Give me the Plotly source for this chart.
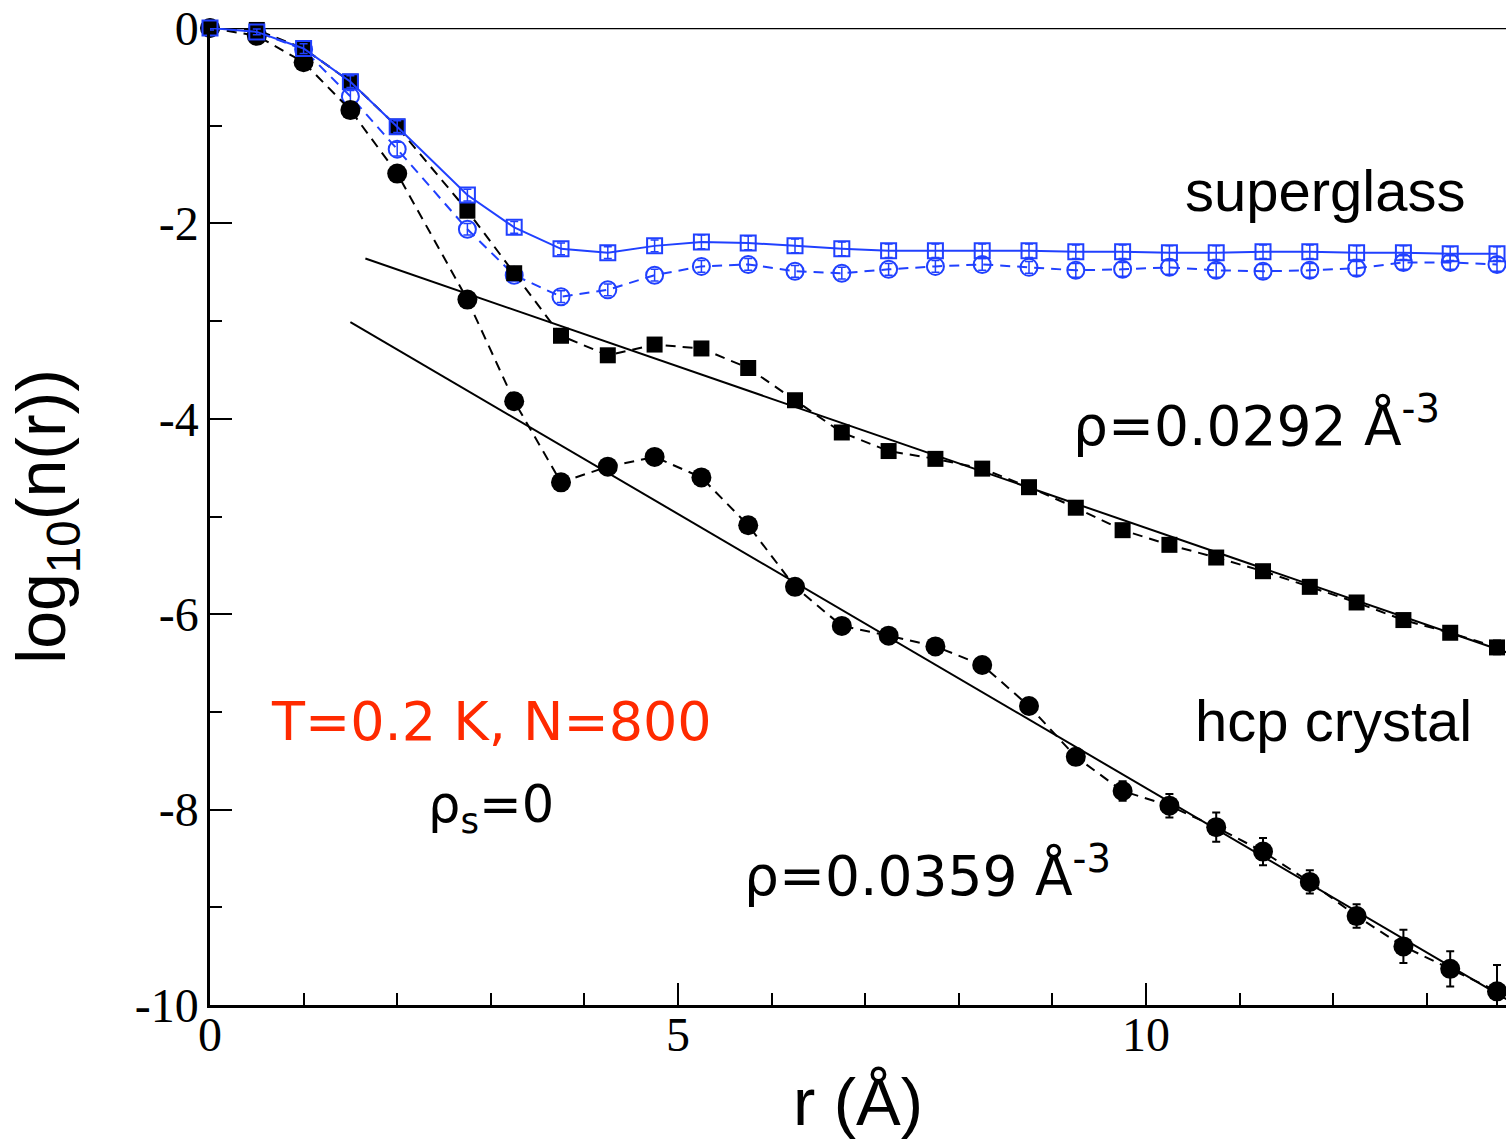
import plotly.graph_objects as go

# r values (Å)
r = [0.0, 0.5, 1.0, 1.5, 2.0, 2.75, 3.25, 3.75, 4.25, 4.75, 5.25, 5.75, 6.25, 6.75,
     7.25, 7.75, 8.25, 8.75, 9.25, 9.75, 10.25, 10.75, 11.25, 11.75, 12.25, 12.75,
     13.25, 13.75]

# hcp crystal, rho = 0.0359 (filled circles)
hcp_0359 = [0.0, -0.08, -0.35, -0.84, -1.49, -2.78, -3.82, -4.65, -4.49, -4.39, -4.60,
            -5.09, -5.72, -6.12, -6.22, -6.33, -6.52, -6.94, -7.46, -7.81, -7.96, -8.18,
            -8.43, -8.74, -9.09, -9.40, -9.63, -9.86]
hcp_0359_err = [0.01, 0.01, 0.02, 0.02, 0.02, 0.03, 0.03, 0.04, 0.04, 0.04, 0.04, 0.05,
                0.05, 0.05, 0.05, 0.06, 0.06, 0.06, 0.08, 0.10, 0.12, 0.15, 0.14, 0.12,
                0.12, 0.17, 0.18, 0.27]

# hcp crystal, rho = 0.0292 (filled squares)
hcp_0292 = [0.0, -0.02, -0.21, -0.55, -1.01, -1.87, -2.51, -3.15, -3.35, -3.24, -3.28,
            -3.48, -3.81, -4.14, -4.33, -4.41, -4.51, -4.70, -4.91, -5.14, -5.29, -5.42,
            -5.56, -5.72, -5.88, -6.06, -6.19, -6.34]
hcp_0292_err = [0.01, 0.01, 0.01, 0.02, 0.02, 0.02, 0.02, 0.02, 0.02, 0.02, 0.03, 0.03,
                0.03, 0.03, 0.03, 0.03, 0.03, 0.03, 0.03, 0.03, 0.04, 0.04, 0.04, 0.04,
                0.05, 0.05, 0.06, 0.07]

# superglass, rho = 0.0292 (open squares, solid line)
glass_0292 = [0.0, -0.04, -0.21, -0.55, -1.01, -1.71, -2.04, -2.26, -2.30, -2.23, -2.19,
              -2.20, -2.23, -2.26, -2.28, -2.28, -2.28, -2.28, -2.29, -2.29, -2.30, -2.30,
              -2.29, -2.29, -2.30, -2.30, -2.31, -2.31]
glass_0292_err = [0.02, 0.03, 0.05, 0.06, 0.06, 0.06, 0.06, 0.06, 0.06, 0.06, 0.07, 0.07,
                  0.07, 0.07, 0.07, 0.07, 0.07, 0.07, 0.07, 0.07, 0.07, 0.07, 0.07, 0.07,
                  0.07, 0.07, 0.07, 0.07]

# superglass, rho = 0.0359 (open circles, dashed line)
glass_0359 = [0.0, -0.04, -0.22, -0.70, -1.24, -2.06, -2.53, -2.75, -2.68, -2.53, -2.44,
              -2.42, -2.49, -2.51, -2.47, -2.44, -2.42, -2.45, -2.48, -2.47, -2.45, -2.48,
              -2.49, -2.48, -2.46, -2.40, -2.40, -2.42]
glass_0359_err = [0.02, 0.03, 0.05, 0.06, 0.07, 0.06, 0.06, 0.06, 0.06, 0.06, 0.06, 0.06,
                  0.06, 0.06, 0.06, 0.06, 0.06, 0.06, 0.07, 0.07, 0.07, 0.07, 0.07, 0.07,
                  0.07, 0.07, 0.07, 0.07]

# exponential fits (straight lines in log scale)
fit_0292_x = [1.66, 13.85]
fit_0292_y = [-2.36, -6.39]
fit_0359_x = [1.50, 13.85]
fit_0359_y = [-3.01, -9.94]

# tick labels
x_tickvals = [0, 5, 10]
x_ticktext = ["0", "5", "10"]
y_tickvals = [0, -2, -4, -6, -8, -10]
y_ticktext = ["0", "-2", "-4", "-6", "-8", "-10"]

BLUE = "#2040ff"
SERIF = "Liberation Serif, Times New Roman, serif"
SANS = "Liberation Sans, Arial, sans-serif"
COMIC = "DejaVu Sans, sans-serif"

fig = go.Figure()

# fit lines
fig.add_trace(go.Scatter(x=fit_0292_x, y=fit_0292_y, mode="lines",
                         line=dict(color="black", width=2), hoverinfo="skip"))
fig.add_trace(go.Scatter(x=fit_0359_x, y=fit_0359_y, mode="lines",
                         line=dict(color="black", width=2), hoverinfo="skip"))

# superglass open circles (dashed)
fig.add_trace(go.Scatter(
    x=r, y=glass_0359, mode="lines+markers", cliponaxis=False,
    line=dict(color=BLUE, width=2, dash="10px,7px"),
    marker=dict(symbol="circle-open", size=17, color=BLUE, line=dict(color=BLUE, width=2)),
    error_y=dict(type="data", array=glass_0359_err, color=BLUE, thickness=1.5, width=4)))

# hcp circles
fig.add_trace(go.Scatter(
    x=r, y=hcp_0359, mode="lines+markers", cliponaxis=False,
    line=dict(color="black", width=2, dash="10px,7px"),
    marker=dict(symbol="circle", size=20, color="black"),
    error_y=dict(type="data", array=hcp_0359_err, color="black", thickness=2, width=4)))

# hcp squares
fig.add_trace(go.Scatter(
    x=r, y=hcp_0292, mode="lines+markers", cliponaxis=False,
    line=dict(color="black", width=2, dash="10px,7px"),
    marker=dict(symbol="square", size=16, color="black"),
    error_y=dict(type="data", array=hcp_0292_err, color="black", thickness=2, width=4)))

# superglass open squares (solid)
fig.add_trace(go.Scatter(
    x=r, y=glass_0292, mode="lines+markers", cliponaxis=False,
    line=dict(color=BLUE, width=2),
    marker=dict(symbol="square-open", size=15, color=BLUE, line=dict(color=BLUE, width=2)),
    error_y=dict(type="data", array=glass_0292_err, color=BLUE, thickness=1.5, width=4)))

annotations = [
    dict(x=10.39, y=-1.66, text="superglass", xanchor="left", yanchor="middle",
         font=dict(family=SANS, size=58, color="black")),
    dict(x=10.50, y=-7.09, text="hcp crystal", xanchor="left", yanchor="middle",
         font=dict(family=SANS, size=58, color="black")),
    dict(x=9.20, y=-4.03, text="ρ=0.0292 Å<sup>-3</sup>", xanchor="left", yanchor="middle",
         font=dict(family=COMIC, size=55, color="black")),
    dict(x=5.68, y=-8.64, text="ρ=0.0359 Å<sup>-3</sup>", xanchor="left", yanchor="middle",
         font=dict(family=COMIC, size=55, color="black")),
    dict(x=0.63, y=-7.10, text="T=0.2 K, N=800", xanchor="left", yanchor="middle",
         font=dict(family=COMIC, size=54, color="#ff2a00")),
    dict(x=2.31, y=-7.98, text="ρ<sub>s</sub>=0", xanchor="left", yanchor="middle",
         font=dict(family=COMIC, size=51, color="black")),
]
for a in annotations:
    a.update(xref="x", yref="y", showarrow=False)

fig.update_layout(
    width=1506, height=1139,
    margin=dict(l=210, r=0, t=28, b=134),
    paper_bgcolor="white", plot_bgcolor="white",
    showlegend=False,
    annotations=annotations,
    shapes=[dict(type="line", xref="paper", yref="y", x0=0, x1=1, y0=0, y1=0,
                 line=dict(color="black", width=2.5), layer="below")],
)

fig.update_xaxes(
    range=[0, 13.846], showgrid=False, zeroline=False,
    showline=True, linecolor="black", linewidth=2.5,
    ticks="inside", ticklen=22, tickwidth=2, tickcolor="black",
    tickvals=x_tickvals, ticktext=x_ticktext,
    tickfont=dict(family=SERIF, size=48, color="black"),
    ticklabelstandoff=-14,
    minor=dict(dtick=1, tick0=0, ticks="inside", ticklen=12, tickwidth=2, tickcolor="black"),
    title=dict(text="r (Å)", font=dict(family=SANS, size=67, color="black"), standoff=22),
)
fig.update_yaxes(
    range=[-10, 0], showgrid=False, zeroline=False,
    showline=True, linecolor="black", linewidth=2.5,
    ticks="inside", ticklen=22, tickwidth=2, tickcolor="black",
    tickvals=y_tickvals, ticktext=y_ticktext,
    tickfont=dict(family=SERIF, size=48, color="black"),
    ticklabelstandoff=-1,
    minor=dict(dtick=1, tick0=0, ticks="inside", ticklen=12, tickwidth=2, tickcolor="black"),
    title=dict(text="log<sub>10</sub>(n(r))", font=dict(family=SANS, size=68, color="black"),
               standoff=47),
)

fig.write_html("out.html", config={"displayModeBar": False})
